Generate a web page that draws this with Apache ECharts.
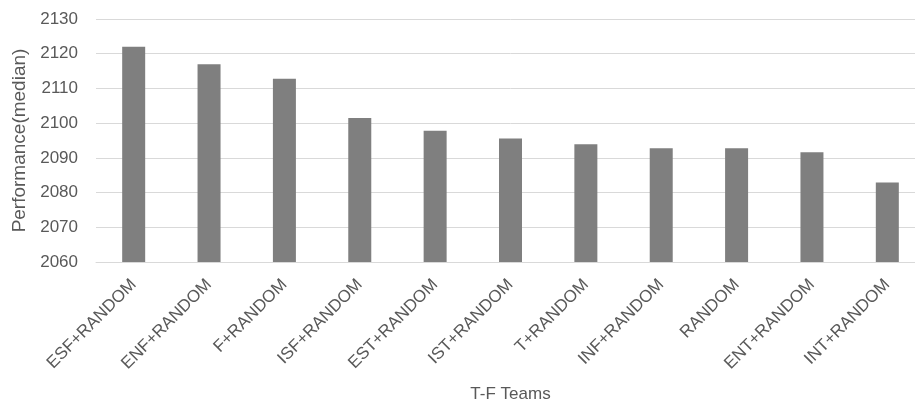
<!DOCTYPE html>
<html>
<head>
<meta charset="utf-8">
<script src="https://cdn.jsdelivr.net/npm/echarts@6/dist/echarts.min.js"></script>
<style>
  html, body { margin: 0; padding: 0; background: #fff; overflow: hidden; }
  /* the plot runs a little past the right edge of the window */
  #chart { width: 925px; height: 408px; }
</style>
</head>
<body>
<div id="chart"></div>
<script>
// Team compositions along the horizontal axis
var teams = ['ESF+RANDOM', 'ENF+RANDOM', 'F+RANDOM', 'ISF+RANDOM', 'EST+RANDOM',
             'IST+RANDOM', 'T+RANDOM', 'INF+RANDOM', 'RANDOM', 'ENT+RANDOM', 'INT+RANDOM'];
// Median performance per team
var medianPerformance = [2122, 2117, 2112.8, 2101.5, 2097.8, 2095.6, 2093.9, 2092.8, 2092.8, 2091.6, 2082.9];
// Value axis range and step
var yMin = 2060, yMax = 2130, yStep = 10;

var textColor = '#595959';
var fontFamily = '"Liberation Sans", Arial, sans-serif';

var chart = echarts.init(document.getElementById('chart'), null, { renderer: 'canvas' });
chart.setOption({
  backgroundColor: '#ffffff',
  animation: false,
  grid: { left: 96, top: 19, right: 0, bottom: 144 },
  xAxis: {
    type: 'category',
    data: teams,
    name: 'T-F Teams',
    nameLocation: 'middle',
    nameGap: 124,
    nameTextStyle: { color: textColor, fontSize: 17, fontFamily: fontFamily },
    axisLine: { show: true, lineStyle: { color: '#d9d9d9', width: 1 } },
    axisTick: { show: false },
    axisLabel: { rotate: 45, margin: 20, color: textColor, fontSize: 17, fontFamily: fontFamily, interval: 0 }
  },
  yAxis: {
    type: 'value',
    min: yMin, max: yMax, interval: yStep,
    name: 'Performance(median)',
    nameLocation: 'middle',
    nameGap: 58,
    nameTextStyle: { color: textColor, fontSize: 19, fontFamily: fontFamily },
    axisLine: { show: false },
    axisTick: { show: false },
    axisLabel: { margin: 18, color: textColor, fontSize: 17, fontFamily: fontFamily,
                 formatter: function (v) { return String(v); } },
    splitLine: { lineStyle: { color: '#d9d9d9', width: 1 } }
  },
  series: [{
    type: 'bar',
    data: medianPerformance,
    barWidth: 23,
    itemStyle: { color: '#7f7f7f' }
  }]
});
</script>
</body>
</html>
